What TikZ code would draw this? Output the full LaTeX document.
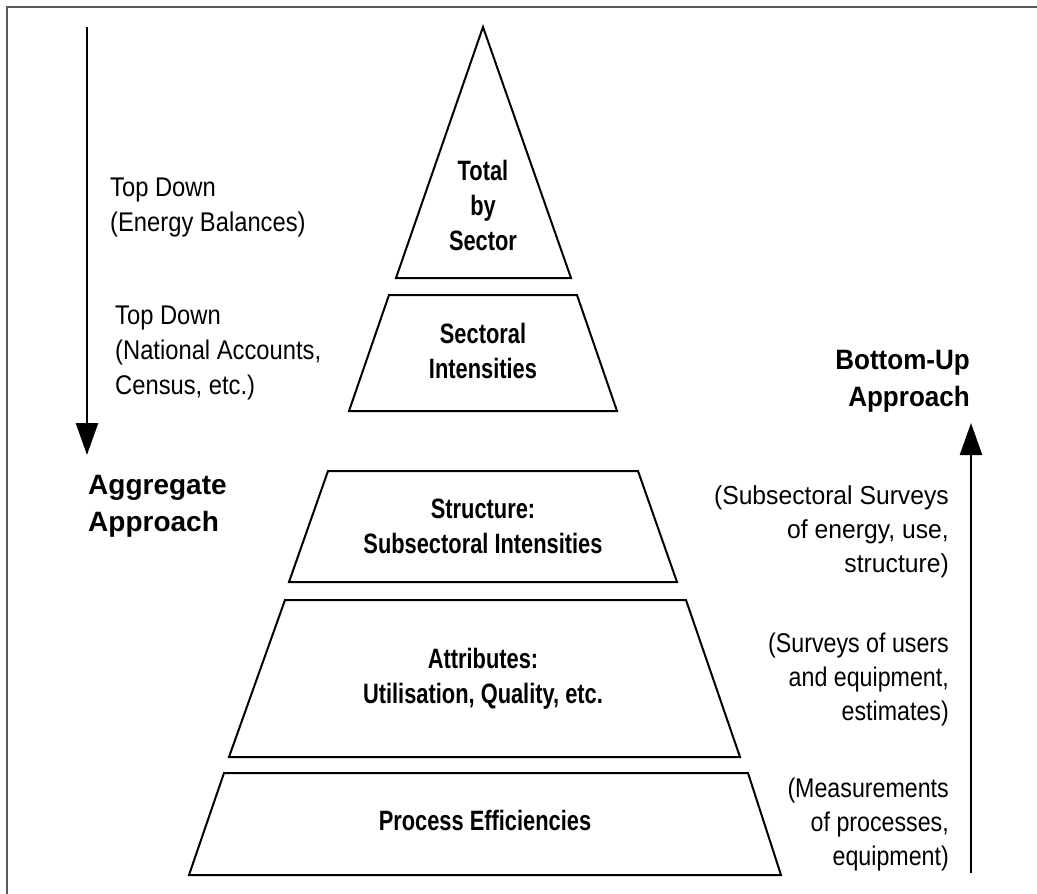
\documentclass[tikz,border=0pt]{standalone}
\usepackage{fontspec}
\setmainfont{Liberation Sans}
\newfontfamily\condfont[FakeStretch=0.78]{Liberation Sans}
\newfontfamily\notefont[FakeStretch=0.88]{Liberation Sans}
\newfontfamily\notewfont[FakeStretch=0.95]{Liberation Sans}
\newfontfamily\notecfont[FakeStretch=0.86]{Liberation Sans}
\newfontfamily\headfont[FakeStretch=0.93]{Liberation Sans}
\usetikzlibrary{arrows.meta}
\begin{document}
\begin{tikzpicture}[x=1pt,y=-1pt,
  layer/.style={draw=black,line width=2pt,line join=miter},
  inlabel/.style={align=center,font=\condfont\bfseries\fontsize{28}{35}\selectfont,inner sep=0pt},
  sidehead/.style={align=left,font=\bfseries\fontsize{28}{37}\selectfont,inner sep=0pt},
  sideheadc/.style={align=right,font=\headfont\bfseries\fontsize{28}{37}\selectfont,inner sep=0pt},
  leftnote/.style={align=left,font=\notefont\fontsize{27}{35}\selectfont,inner sep=0pt},
  rightnote/.style={align=right,font=\notecfont\fontsize{27}{34}\selectfont,inner sep=0pt},
  rightnotew/.style={align=right,font=\notewfont\fontsize{26}{34}\selectfont,inner sep=0pt},
  flow/.style={draw=black,line width=2.5pt,-{Triangle[width=22pt,length=32pt]}}]
\useasboundingbox (0,0) rectangle (1037,894);
\fill[white] (0,0) rectangle (1037,894);
% frame
\draw[color=black!65,line width=2pt] (7,894) -- (7,7) -- (1037,7);
% pyramid layers
\draw[layer] (483,27) -- (571,278) -- (396,278) -- cycle;
\draw[layer] (389,295) -- (577,295) -- (617,411) -- (349,411) -- cycle;
\draw[layer] (328,471) -- (638,471) -- (677,582) -- (289,582) -- cycle;
\draw[layer] (285,600) -- (686,600) -- (740,757) -- (229,757) -- cycle;
\draw[layer] (224,773) -- (748,773) -- (781,875) -- (189,875) -- cycle;
% labels inside
\node[inlabel] (total) at (483,205) {Total\\by\\Sector};
\node[inlabel] (sect) at (483,351) {Sectoral\\Intensities};
\node[inlabel] (struct) at (483,526) {Structure:\\Subsectoral Intensities};
\node[inlabel] (attr) at (483,679) {Attributes:\\Utilisation, Quality, etc.};
\node[inlabel] (proc) at (485,820) {Process Efficiencies};
% left side
\coordinate (ltop) at (87,27);
\coordinate (lbot) at (87,455);
\draw[flow] (ltop) -- (lbot);
\node[leftnote,anchor=west] (td1) at (110,208) {Top Down\\(Energy Balances)};
\node[leftnote,anchor=west] (td2) at (115,353) {Top Down\\(National Accounts,\\Census, etc.)};
\node[sidehead,anchor=west] (agg) at (88,506) {Aggregate\\Approach};
% right side
\coordinate (rbot) at (971,873);
\coordinate (rtop) at (971,423);
\draw[flow] (rbot) -- (rtop);
\node[sideheadc,anchor=east] (bu) at (970,381) {Bottom-Up\\Approach};
\node[rightnotew,anchor=east] (n1) at (949,532) {(Subsectoral Surveys\\of energy, use,\\structure)};
\node[rightnote,anchor=east] (n2) at (949,680) {(Surveys of users\\and equipment,\\estimates)};
\node[rightnote,anchor=east] (n3) at (949,825) {(Measurements\\of processes,\\equipment)};
\end{tikzpicture}
\end{document}
